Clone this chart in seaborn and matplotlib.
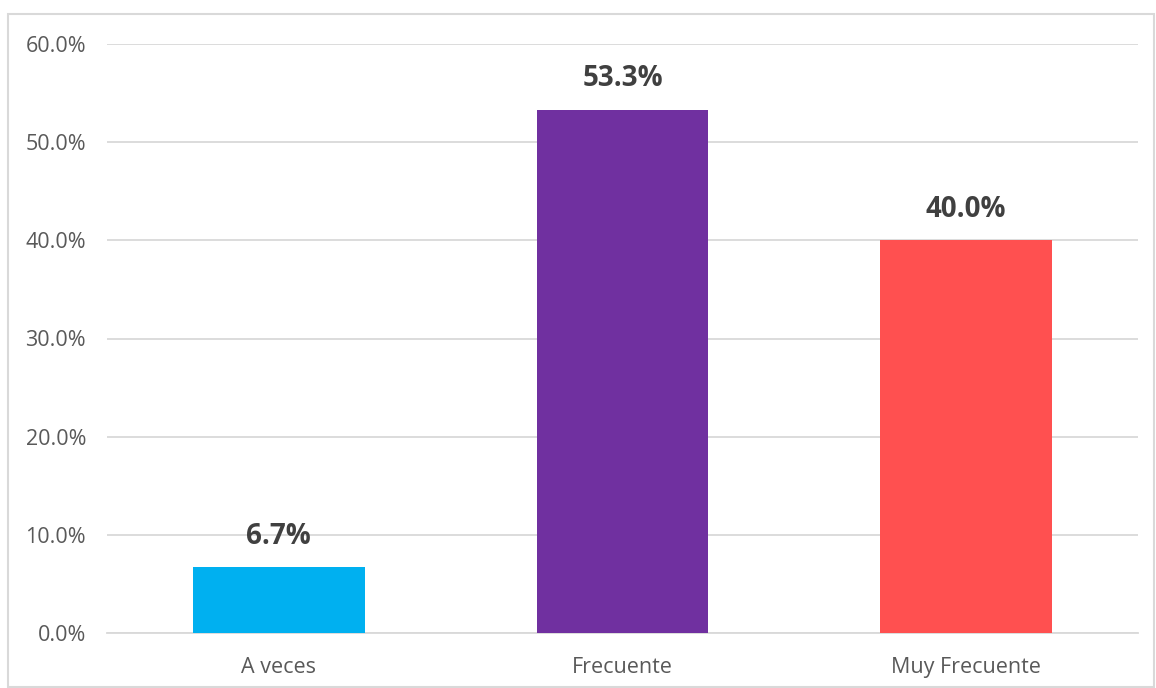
import numpy as np
import pandas as pd
import matplotlib
matplotlib.use("Agg")
import matplotlib.pyplot as plt
from matplotlib.patches import Rectangle
from matplotlib.ticker import FuncFormatter
import seaborn as sns

categories = ["A veces", "Frecuente", "Muy Frecuente"]
percentages = [6.7, 53.3, 40.0]
bar_colors = ["#00B0F0", "#7030A0", "#FF5050"]
y_ticks = [0, 10, 20, 30, 40, 50, 60]

df = pd.DataFrame({"categoria": categories, "porcentaje": percentages})

sns.set_theme(style="white")
plt.rcParams["font.family"] = ["Open Sans", "DejaVu Sans"]

W, H = 1156, 688
fig = plt.figure(figsize=(W / 100, H / 100), dpi=100)
ax = fig.add_axes([107 / W, 1 - 633 / H, (1138 - 107) / W, (633 - 44) / H])

sns.barplot(data=df, x="categoria", y="porcentaje", hue="categoria",
            palette=bar_colors, width=0.5, legend=False, saturation=1,
            edgecolor="none", ax=ax, zorder=3)

ax.set_ylim(0, 60)
ax.set_yticks(y_ticks)
ax.yaxis.set_major_formatter(FuncFormatter(lambda v, _: f"{v:.1f}%"))
ax.grid(axis="y", color="#D9D9D9", linewidth=1.3, zorder=0)
for s in ["top", "right", "left"]:
    ax.spines[s].set_visible(False)
ax.spines["bottom"].set_color("#D9D9D9")
ax.spines["bottom"].set_linewidth(1.3)
ax.tick_params(axis="both", length=0, labelsize=15.5, labelcolor="#595959")
ax.tick_params(axis="y", pad=15)
ax.tick_params(axis="x", pad=17)
ax.set_xlabel("")
ax.set_ylabel("")

for i, v in enumerate(percentages):
    ax.annotate(f"{v:.1f}%", (i, v), xytext=(0, 12), textcoords="offset points",
                ha="center", va="bottom", fontsize=20, fontweight="bold",
                color="#404040")

fig.patches.append(Rectangle((8 / W, 1 / H), (1154 - 8) / W, (674 - 1) / H,
                             transform=fig.transFigure, fill=False,
                             edgecolor="#D9D9D9", linewidth=1.5))

fig.savefig("out.png", dpi=100)
